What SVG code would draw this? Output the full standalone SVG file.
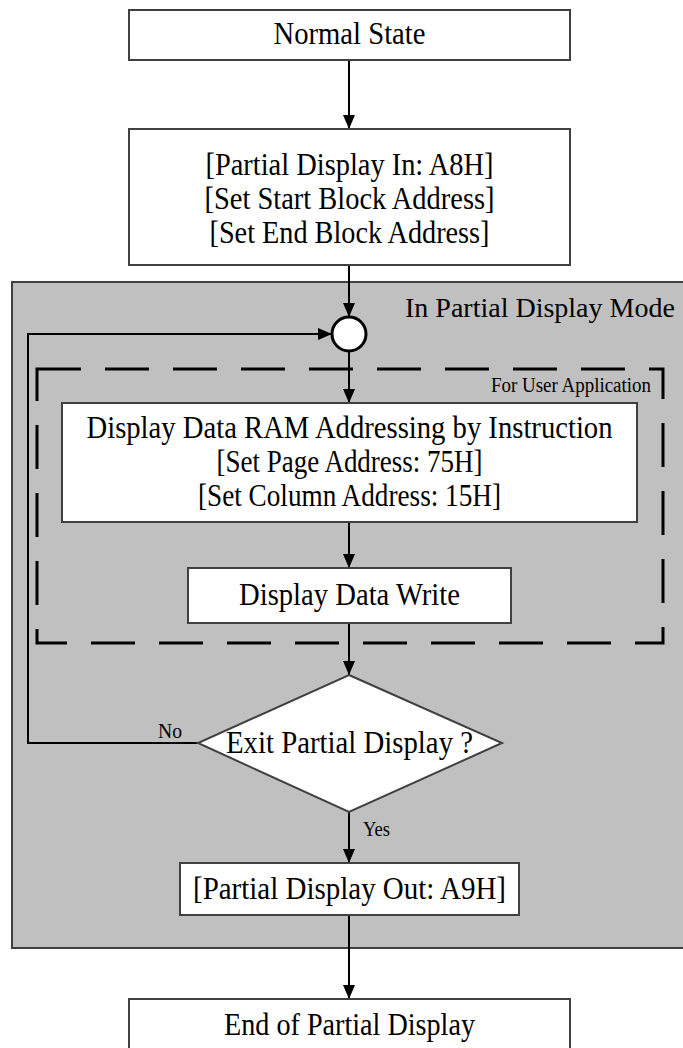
<svg xmlns="http://www.w3.org/2000/svg" width="683" height="1048" viewBox="0 0 683 1048">
<style>
.box{fill:#fff;stroke:#404040;stroke-width:2}
.t{font-family:"Liberation Serif","Times New Roman",serif;font-size:30.5px;fill:#000;text-anchor:middle}
.s{font-family:"Liberation Serif","Times New Roman",serif;fill:#000}
.c{fill:none;stroke:#000;stroke-width:2}
</style>
<defs>
<marker id="ah" markerUnits="userSpaceOnUse" markerWidth="14" markerHeight="12" refX="14" refY="6" orient="auto">
<path d="M0,0 L14,6 L0,12 Z" fill="#000"/>
</marker>
</defs>
<rect width="683" height="1048" fill="#fff"/>
<g id="panel">
<rect x="12" y="282" width="680" height="666" fill="#c0c0c0" stroke="#404040" stroke-width="2"/>
<text class="s" x="405" y="317" font-size="28">In Partial Display Mode</text>
</g>
<g id="userapp">
<rect x="37" y="369" width="626" height="274" fill="none" stroke="#000" stroke-width="3" stroke-dasharray="44 24"/>
<text class="s" x="491" y="392" font-size="20" textLength="160" lengthAdjust="spacingAndGlyphs">For User Application</text>
</g>
<g id="connectors">
<line class="c" x1="349" y1="60" x2="349" y2="129" marker-end="url(#ah)"/>
<line class="c" x1="349" y1="265" x2="349" y2="317" marker-end="url(#ah)"/>
<line class="c" x1="349" y1="351" x2="349" y2="403" marker-end="url(#ah)"/>
<line class="c" x1="349" y1="522" x2="349" y2="568" marker-end="url(#ah)"/>
<line class="c" x1="349" y1="623" x2="349" y2="675" marker-end="url(#ah)"/>
<line class="c" x1="349" y1="812" x2="349" y2="863" marker-end="url(#ah)"/>
<line class="c" x1="349" y1="915" x2="349" y2="999" marker-end="url(#ah)"/>
<polyline class="c" points="198,743 28,743 28,334 332,334" marker-end="url(#ah)"/>
<text class="s" x="158" y="738" font-size="20" textLength="24" lengthAdjust="spacingAndGlyphs">No</text>
<text class="s" x="363" y="836" font-size="20" textLength="27" lengthAdjust="spacingAndGlyphs">Yes</text>
</g>
<g id="normal">
<rect class="box" x="129" y="10" width="441" height="50"/>
<text class="t" x="349.5" y="44" textLength="152" lengthAdjust="spacingAndGlyphs">Normal State</text>
</g>
<g id="enter">
<rect class="box" x="129" y="129" width="441" height="136"/>
<text class="t" x="349.5" y="175" textLength="288" lengthAdjust="spacingAndGlyphs">[Partial Display In: A8H]</text>
<text class="t" x="349.5" y="209" textLength="290" lengthAdjust="spacingAndGlyphs">[Set Start Block Address]</text>
<text class="t" x="349.5" y="243" textLength="280" lengthAdjust="spacingAndGlyphs">[Set End Block Address]</text>
</g>
<g id="junction">
<circle cx="349" cy="334" r="17" fill="#fff" stroke="#000" stroke-width="3"/>
</g>
<g id="addressing">
<rect class="box" x="62" y="403" width="575" height="119"/>
<text class="t" x="349.5" y="438" textLength="526" lengthAdjust="spacingAndGlyphs">Display Data RAM Addressing by Instruction</text>
<text class="t" x="349.5" y="472" textLength="266" lengthAdjust="spacingAndGlyphs">[Set Page Address: 75H]</text>
<text class="t" x="349.5" y="506" textLength="303" lengthAdjust="spacingAndGlyphs">[Set Column Address: 15H]</text>
</g>
<g id="write">
<rect class="box" x="188" y="568" width="323" height="55"/>
<text class="t" x="349.5" y="605" textLength="221" lengthAdjust="spacingAndGlyphs">Display Data Write</text>
</g>
<g id="decision">
<polygon points="349,675 502,743 349,812 198,743" fill="#fff" stroke="#404040" stroke-width="2"/>
<text class="t" x="349.5" y="753" textLength="247" lengthAdjust="spacingAndGlyphs">Exit Partial Display ?</text>
</g>
<g id="exit">
<rect class="box" x="180" y="863" width="339" height="52"/>
<text class="t" x="349.5" y="899" textLength="313" lengthAdjust="spacingAndGlyphs">[Partial Display Out: A9H]</text>
</g>
<g id="end">
<rect class="box" x="129" y="999" width="441" height="60"/>
<text class="t" x="349.5" y="1035" textLength="251" lengthAdjust="spacingAndGlyphs">End of Partial Display</text>
</g>
</svg>
